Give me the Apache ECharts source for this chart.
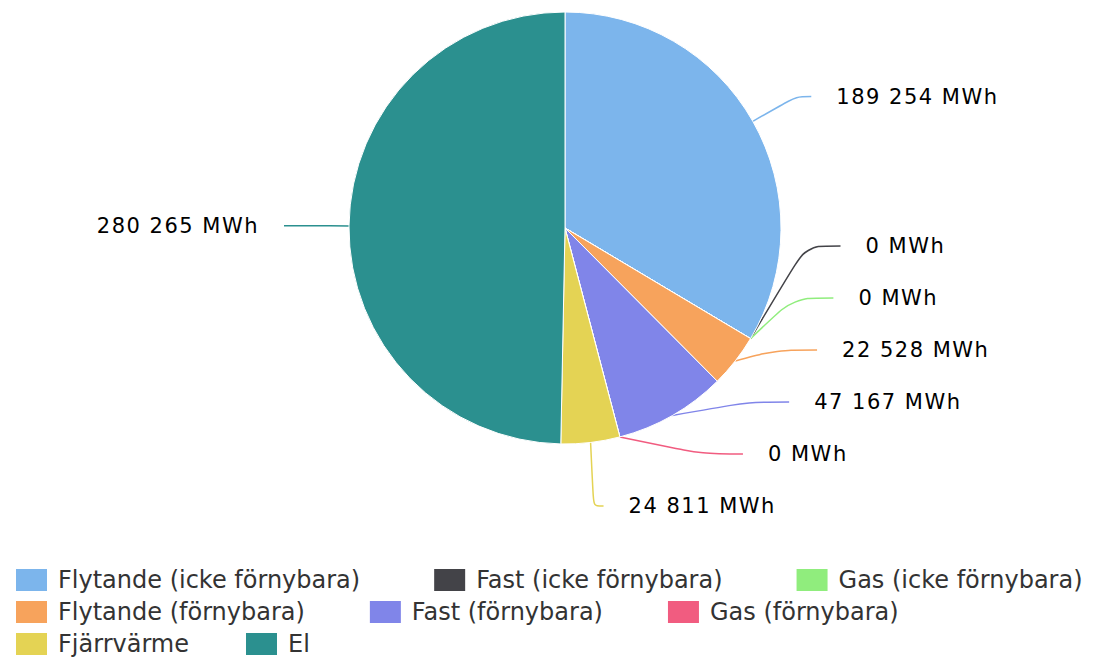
<!DOCTYPE html>
<html>
<head>
<meta charset="utf-8">
<script src="https://cdn.jsdelivr.net/npm/echarts@6/dist/echarts.min.js"></script>
<style>
html,body{margin:0;padding:0;background:#fff;}
#chart{width:1094px;height:659px;}
</style>
</head>
<body>
<div id="chart"></div>
<script>
const categories = ['Flytande (icke förnybara)', 'Fast (icke förnybara)', 'Gas (icke förnybara)', 'Flytande (förnybara)', 'Fast (förnybara)', 'Gas (förnybara)', 'Fjärrvärme', 'El'];
const values = [189254, 0, 0, 22528, 47167, 0, 24811, 280265];
const colors = ['#7cb5ec', '#434348', '#90ed7d', '#f7a35c', '#8085e9', '#f15c80', '#e4d354', '#2b908f'];
const unit = 'MWh';
const legendRows = [categories.slice(0, 3), categories.slice(3, 6), categories.slice(6, 8)];

function fmt(v) {
  return String(v).replace(/\B(?=(\d{3})+(?!\d))/g, ' ') + ' ' + unit;
}

// per-slice connector lengths (style only)
const lineStyles = {
  'Flytande (icke förnybara)': {length: 50, length2: 15},
  'Fjärrvärme': {length: 25, length2: 10}
};

const legendBase = {
  left: 14,
  orient: 'horizontal',
  itemWidth: 33,
  itemHeight: 24,
  icon: 'rect',
  padding: 0,
  textStyle: {fontFamily: 'DejaVu Sans', fontSize: 24, color: '#333333', padding: [0, 0, 0, 5]}
};

const chart = echarts.init(document.getElementById('chart'), null, {renderer: 'svg'});

function spaceLabels() {
  document.querySelectorAll('#chart text').forEach(t => {
    if (t.textContent.indexOf(unit) >= 0) t.style.letterSpacing = '1.5px';
  });
}
chart.on('finished', spaceLabels);

chart.setOption({
  animation: false,
  color: colors,
  legend: [
    Object.assign({}, legendBase, {top: 567, itemGap: 72, data: legendRows[0]}),
    Object.assign({}, legendBase, {top: 599, itemGap: 63, data: legendRows[1]}),
    Object.assign({}, legendBase, {top: 631, itemGap: 55, data: legendRows[2]})
  ],
  series: [{
    type: 'pie',
    left: 0,
    top: 0,
    width: 1094,
    height: 532,
    center: [565, 228],
    radius: [0, 216],
    startAngle: 90,
    clockwise: true,
    avoidLabelOverlap: true,
    itemStyle: {borderColor: '#ffffff', borderWidth: 1},
    label: {
      show: true,
      formatter: p => fmt(p.value),
      fontFamily: 'DejaVu Sans',
      fontSize: 21,
      color: '#000000',
      lineHeight: 50,
      padding: [0, 20]
    },
    labelLine: {show: true, length: 25, length2: 40, smooth: 0.3, lineStyle: {width: 1.5}},
    emphasis: {disabled: true},
    data: categories.map((c, i) => {
      const item = {name: c, value: values[i]};
      if (lineStyles[c]) item.labelLine = lineStyles[c];
      return item;
    })
  }]
});
spaceLabels();
setTimeout(spaceLabels, 50);
</script>
</body>
</html>
